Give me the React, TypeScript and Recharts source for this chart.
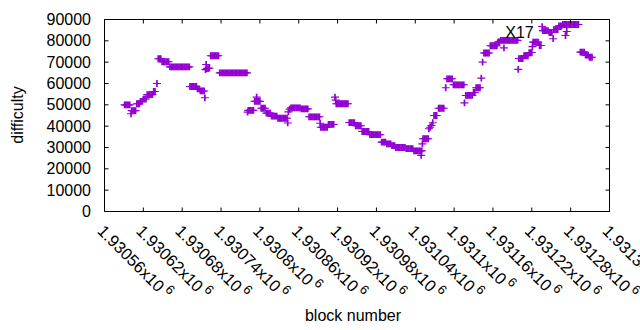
import React from 'react';
import { ScatterChart, Scatter, XAxis, YAxis, ReferenceDot } from 'recharts';

const PURPLE = '#9400d3';
const FONT = '"Liberation Sans", Arial, sans-serif';

const xTicks = [
  1930560, 1930620, 1930680, 1930740, 1930800, 1930860, 1930920,
  1930980, 1931040, 1931100, 1931160, 1931220, 1931280, 1931340,
];
const xTickLabels = [
  '1.93056', '1.93062', '1.93068', '1.93074', '1.9308', '1.93086', '1.93092',
  '1.93098', '1.93104', '1.9311', '1.93116', '1.93122', '1.93128', '1.93134',
];
const yTicks = [0, 10000, 20000, 30000, 40000, 50000, 60000, 70000, 80000, 90000];

// [block number, difficulty]
const climbAndFirstPeak: [number, number][] = [
  [1930591, 50000], [1930593, 50000], [1930595, 50000], [1930597, 50000], [1930599, 50000],
  [1930601, 45800],
  [1930602, 47300], [1930604, 47300], [1930606, 47300], [1930608, 47300],
  [1930610, 50500], [1930612, 50500], [1930614, 50500],
  [1930616, 51600], [1930618, 51600],
  [1930620, 52700], [1930622, 52700], [1930624, 52700],
  [1930626, 54800], [1930628, 54800], [1930630, 54800], [1930632, 54800], [1930634, 54800],
  [1930636, 56250], [1930638, 56250],
  [1930641, 60000],
  [1930643, 71600], [1930645, 71600], [1930647, 71600],
  [1930649, 70200], [1930651, 70200], [1930653, 70200], [1930655, 70200], [1930657, 70200], [1930659, 70200],
  [1930661, 67800], [1930663, 67800], [1930665, 67800], [1930667, 67800], [1930669, 67800], [1930671, 67800],
  [1930673, 67800], [1930675, 67800], [1930677, 67800], [1930679, 67800], [1930681, 67800], [1930683, 67800],
  [1930685, 67800], [1930687, 67800], [1930689, 67800], [1930691, 67800],
  [1930692, 58600], [1930694, 58600], [1930696, 58600], [1930698, 58600], [1930700, 58600], [1930702, 58600],
  [1930704, 57500], [1930706, 57500],
  [1930708, 56500], [1930710, 56500], [1930712, 56500], [1930714, 56500],
  [1930715, 53300],
  [1930716, 66500], [1930717, 68900], [1930718, 67000], [1930720, 67000], [1930722, 67200],
  [1930724, 73000], [1930726, 73000], [1930728, 73000], [1930730, 73000], [1930732, 73000], [1930734, 73000], [1930736, 73000],
  [1930738, 65000], [1930740, 65000], [1930742, 65000], [1930744, 65000], [1930746, 65000], [1930748, 65000],
  [1930750, 65000], [1930752, 65000], [1930754, 65000], [1930756, 65000], [1930758, 65000], [1930760, 65000],
  [1930762, 65000], [1930764, 65000], [1930766, 65000], [1930768, 65000], [1930770, 65000], [1930772, 65000],
  [1930774, 65000], [1930776, 65000], [1930778, 65000], [1930780, 65000],
];

const secondWave: [number, number][] = [
  [1930781, 46600],
  [1930782, 47400], [1930784, 47400], [1930786, 47400], [1930788, 47400], [1930790, 47400],
  [1930792, 51600], [1930794, 51600], [1930795, 53600], [1930796, 51600], [1930798, 51600], [1930800, 51600],
  [1930802, 48400], [1930804, 48400], [1930806, 48400], [1930808, 48400],
  [1930810, 46100], [1930812, 46100], [1930814, 46100], [1930816, 46100],
  [1930818, 44700], [1930820, 44700], [1930822, 44700], [1930824, 44700], [1930826, 44700],
  [1930828, 43700], [1930830, 43700], [1930832, 43700], [1930834, 43700], [1930836, 43700], [1930838, 43700],
  [1930840, 43700], [1930842, 43700],
  [1930843, 41500],
  [1930844, 46700], [1930846, 48000],
  [1930848, 48600], [1930850, 48600], [1930852, 48600], [1930854, 48600], [1930856, 48600], [1930858, 48600],
  [1930860, 48600], [1930862, 48600],
  [1930864, 48100], [1930866, 48100], [1930868, 48100], [1930870, 48100], [1930872, 48100], [1930874, 48100],
  [1930876, 44400], [1930878, 44400], [1930880, 44400], [1930882, 44400], [1930884, 44400], [1930886, 44400],
  [1930888, 44400], [1930890, 44400], [1930892, 44400],
  [1930893, 41400],
  [1930894, 39500], [1930896, 39500], [1930898, 39500], [1930900, 39500], [1930902, 39500], [1930904, 39500],
  [1930906, 40800], [1930908, 40800], [1930910, 40800], [1930912, 40800], [1930914, 40800],
  [1930916, 53600], [1930917, 52200],
  [1930918, 50500], [1930920, 50500], [1930922, 50500], [1930924, 50500], [1930926, 50500], [1930928, 50500],
  [1930930, 50500], [1930932, 50500], [1930934, 50500], [1930936, 50500],
  [1930938, 41700], [1930940, 41700], [1930942, 41700], [1930944, 41700], [1930946, 41700],
  [1930948, 40200], [1930950, 40200], [1930952, 40200], [1930954, 40200], [1930956, 40200],
  [1930958, 37500], [1930960, 37500], [1930962, 37500], [1930964, 37500], [1930966, 37500], [1930968, 37500],
  [1930970, 36000], [1930972, 36000], [1930974, 36000], [1930976, 36000], [1930978, 36000], [1930980, 36000],
  [1930982, 36000], [1930984, 36000], [1930986, 36000],
];

const valleyAndRecovery: [number, number][] = [
  [1930988, 32500], [1930990, 32500], [1930992, 32500], [1930994, 32500],
  [1930996, 31700], [1930998, 31700], [1931000, 31700], [1931002, 31700],
  [1931004, 30900], [1931006, 30900], [1931008, 30900],
  [1931010, 30000], [1931012, 30000], [1931014, 30000], [1931016, 30000], [1931018, 30000], [1931020, 30000],
  [1931022, 30000], [1931024, 30000],
  [1931026, 29500], [1931028, 29500], [1931030, 29500], [1931032, 29500], [1931034, 29500], [1931036, 29500],
  [1931038, 28400], [1931040, 28400], [1931042, 28400], [1931044, 28400], [1931046, 28400], [1931048, 28400],
  [1931050, 28400],
  [1931049, 26300],
  [1931051, 31700],
  [1931052, 34100], [1931054, 34100], [1931056, 34100], [1931058, 34100], [1931060, 34100],
  [1931061, 38800], [1931063, 39500], [1931065, 40300], [1931067, 41600],
  [1931069, 45000], [1931071, 45000], [1931073, 45000],
  [1931076, 48400], [1931078, 48400], [1931080, 48400], [1931082, 48400], [1931084, 48400],
  [1931087, 58000],
  [1931089, 62200], [1931091, 62200], [1931093, 62200], [1931095, 62200], [1931097, 62200],
  [1931099, 59400], [1931101, 59400], [1931103, 59400], [1931105, 59400], [1931107, 59400], [1931109, 59400],
  [1931111, 59400], [1931113, 59400], [1931115, 59400],
  [1931116, 50900],
  [1931118, 54400], [1931120, 54400], [1931122, 54400], [1931124, 54400], [1931126, 54400], [1931128, 54400],
  [1931130, 55800], [1931132, 55800],
  [1931134, 58000], [1931136, 58000], [1931138, 58000], [1931140, 58000],
  [1931142, 62500],
  [1931144, 70000],
];

const topRange: [number, number][] = [
  [1931146, 74300], [1931148, 74300], [1931150, 74300], [1931152, 74300], [1931154, 74300],
  [1931156, 77700], [1931158, 77700], [1931160, 77700], [1931162, 77700], [1931164, 77700], [1931166, 77700],
  [1931168, 79500], [1931170, 79500],
  [1931172, 80200], [1931174, 80200], [1931176, 80200], [1931178, 80200], [1931180, 80200], [1931182, 80200],
  [1931184, 80200], [1931186, 80200], [1931188, 80200], [1931190, 80200], [1931192, 80200], [1931194, 80200],
  [1931196, 80200], [1931198, 80200],
  [1931177, 76700],
  [1931199, 66600],
  [1931200, 71700], [1931202, 71700], [1931204, 71700], [1931206, 71700],
  [1931208, 73000], [1931210, 73000], [1931212, 73000], [1931214, 73000],
  [1931216, 74500], [1931218, 74500], [1931220, 74500],
  [1931221, 77300],
  [1931222, 79400], [1931224, 79400], [1931226, 79400], [1931228, 79400], [1931230, 79400],
  [1931232, 77800], [1931234, 77800],
  [1931236, 86700],
  [1931237, 84800], [1931239, 84800], [1931241, 84800], [1931243, 84800], [1931245, 84800],
  [1931247, 83900], [1931249, 83900], [1931251, 83900],
  [1931253, 81000],
  [1931254, 85300], [1931256, 85300], [1931258, 85300], [1931260, 85300],
  [1931262, 87000], [1931264, 87000], [1931266, 87000],
  [1931268, 87650], [1931270, 87650], [1931272, 87650], [1931274, 87650], [1931276, 87650], [1931278, 87650],
  [1931280, 87650], [1931282, 87650], [1931284, 87650], [1931286, 87650], [1931288, 87650], [1931290, 87650],
  [1931292, 87650],
  [1931272, 82500], [1931274, 84400],
  [1931295, 74700], [1931297, 74700], [1931299, 74700], [1931301, 74700],
  [1931303, 73300], [1931305, 73300], [1931307, 73300],
  [1931309, 72300], [1931311, 72300], [1931313, 72300],
];

const annotation = { text: 'X17', block: 1931179, difficulty: 84300 };

const data = [...climbAndFirstPeak, ...secondWave, ...valleyAndRecovery, ...topRange].map(
  ([block, difficulty]) => ({ block, difficulty })
);

// gnuplot-style "+" point
const PlusMark = (props: any) => {
  const { cx, cy } = props;
  if (cx == null || cy == null) return null;
  return (
    <g fill="none" stroke={PURPLE}>
      <path d={`M${cx - 4},${cy}h8`} strokeWidth={1.1} />
      <path d={`M${cx},${cy - 3.4}v6.8`} strokeWidth={1.7} />
    </g>
  );
};

const BottomTick = (props: any) => {
  const { x, y, payload } = props;
  const idx = xTicks.indexOf(payload.value);
  return (
    <g>
      <line x1={x} y1={y} x2={x} y2={y - 4} stroke="#000" />
      <text
        transform={`translate(${x - 8},${y + 20.5}) rotate(45)`}
        fontSize={16.5}
        fontFamily={FONT}
        fill="#000"
      >
        {xTickLabels[idx]}x10
        <tspan dx={3} dy={-7} fontSize={13}>6</tspan>
      </text>
    </g>
  );
};

const TopTick = (props: any) => {
  const { x, y } = props;
  return <line x1={x} y1={y} x2={x} y2={y + 4} stroke="#000" />;
};

const LeftTick = (props: any) => {
  const { x, y, payload } = props;
  return (
    <g>
      <line x1={x} y1={y} x2={x + 4} y2={y} stroke="#000" />
      <text x={x - 13.5} y={y + 5.5} textAnchor="end" fontSize={16} fontFamily={FONT} fill="#000">
        {payload.value}
      </text>
    </g>
  );
};

const RightTick = (props: any) => {
  const { x, y } = props;
  return <line x1={x} y1={y} x2={x - 4} y2={y} stroke="#000" />;
};

export default function App() {
  return (
    <div style={{ position: 'absolute', left: 0, top: 0, width: 640, height: 330, background: '#fff', fontFamily: FONT }}>
      <ScatterChart width={640} height={330} margin={{ top: 18.5, right: 29.5, bottom: 117.5, left: 103.5 }}>
        <XAxis
          xAxisId="bottom"
          dataKey="block"
          type="number"
          domain={[1930560, 1931340]}
          ticks={xTicks}
          interval={0}
          allowDataOverflow
          height={1}
          tickSize={0}
          tickMargin={0}
          tickLine={false}
          axisLine={{ stroke: '#000' }}
          tick={<BottomTick />}
        />
        <XAxis
          xAxisId="top"
          orientation="top"
          dataKey="block"
          type="number"
          domain={[1930560, 1931340]}
          ticks={xTicks}
          interval={0}
          allowDataOverflow
          height={1}
          tickSize={0}
          tickMargin={0}
          tickLine={false}
          axisLine={{ stroke: '#000' }}
          tick={<TopTick />}
        />
        <YAxis
          yAxisId="left"
          dataKey="difficulty"
          type="number"
          domain={[0, 90000]}
          ticks={yTicks}
          interval={0}
          allowDataOverflow
          width={1}
          tickSize={0}
          tickMargin={0}
          tickLine={false}
          axisLine={{ stroke: '#000' }}
          tick={<LeftTick />}
        />
        <YAxis
          yAxisId="right"
          orientation="right"
          dataKey="difficulty"
          type="number"
          domain={[0, 90000]}
          ticks={yTicks}
          interval={0}
          allowDataOverflow
          width={1}
          tickSize={0}
          tickMargin={0}
          tickLine={false}
          axisLine={{ stroke: '#000' }}
          tick={<RightTick />}
        />
        <Scatter
          xAxisId="bottom"
          yAxisId="left"
          data={data}
          shape={PlusMark}
          isAnimationActive={false}
        />
        <ReferenceDot
          xAxisId="bottom"
          yAxisId="left"
          x={annotation.block}
          y={annotation.difficulty}
          r={0}
          shape={(p: any) => (
            <text x={p.cx} y={p.cy} dy={6} fontSize={16} fontFamily={FONT} fill="#000">
              {annotation.text}
            </text>
          )}
        />
      </ScatterChart>
      <svg width={640} height={330} style={{ position: 'absolute', left: 0, top: 0, pointerEvents: 'none' }}>
        <text x={353} y={321} textAnchor="middle" fontSize={16} fontFamily={FONT} fill="#000">
          block number
        </text>
        <text
          transform="translate(22.5,115) rotate(-90)"
          textAnchor="middle"
          fontSize={16}
          fontFamily={FONT}
          fill="#000"
        >
          difficulty
        </text>
      </svg>
    </div>
  );
}
